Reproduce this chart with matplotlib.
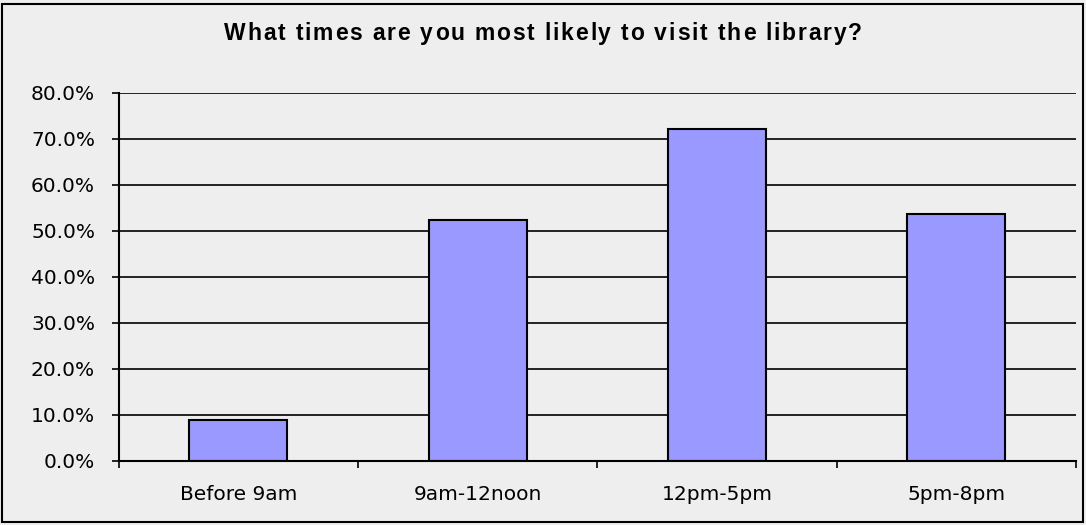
import matplotlib
matplotlib.use("Agg")
import matplotlib.pyplot as plt
from matplotlib.patches import Rectangle
from matplotlib.ticker import FuncFormatter, MultipleLocator
from matplotlib.font_manager import FontProperties

categories = ["Before 9am", "9am-12noon", "12pm-5pm", "5pm-8pm"]
values = [8.9, 52.4, 72.2, 53.7]
title = "What times are you most likely to visit the library?"

plt.rcParams['font.family'] = ['DejaVu Sans']

W, H = 1086, 525
fig = plt.figure(figsize=(W/100, H/100), dpi=100, facecolor="#EEEEEE")
ax = fig.add_axes([118.7/W, 1-461/H, (1076-118.7)/W, (461-93)/H])
ax.set_facecolor("#EEEEEE")

x = list(range(len(categories)))
ax.bar(x, values, width=0.41, color="#9999FF", edgecolor="black", linewidth=1.5, zorder=3)

ax.set_xlim(-0.5, len(categories) - 0.5)
ax.set_ylim(0, 80)
ax.yaxis.set_major_locator(MultipleLocator(10))
ax.yaxis.set_major_formatter(FuncFormatter(lambda v, p: f"{v:.1f}%"))
ax.grid(axis="y", color="black", linewidth=1.2, zorder=1)
ax.set_axisbelow(True)

ax.set_xticks(x)
ax.set_xticklabels(categories)
ax.set_xticks([i - 0.5 for i in range(len(categories) + 1)], minor=True)
ax.tick_params(axis="x", which="major", length=0, pad=17, labelsize=14.5)
ax.tick_params(axis="x", which="minor", length=5, width=1.2, direction="out")
ax.tick_params(axis="y", length=5, width=1.2, direction="out", pad=12, labelsize=14.5)

for s in ["top", "right"]:
    ax.spines[s].set_visible(False)
for s in ["left", "bottom"]:
    ax.spines[s].set_linewidth(1.5)
    ax.spines[s].set_zorder(4)

# Letter-spaced bold title (as in the reference)
fp = FontProperties(family="Liberation Sans", weight="bold", size=16.5)
renderer = fig.canvas.get_renderer()

def text_w(s):
    t = fig.text(0, 0, s + "|", fontproperties=fp)
    w = t.get_window_extent(renderer).width
    t.remove()
    t2 = fig.text(0, 0, "|", fontproperties=fp)
    w2 = t2.get_window_extent(renderer).width
    t2.remove()
    return w - w2

natural = text_w(title)
target_w = 638.0
spacing = (target_w - natural) / (len(title) - 1)
x0 = 543 - target_w / 2
for i, c in enumerate(title):
    if c == " ":
        continue
    xp = x0 + (text_w(title[:i]) if i else 0) + i * spacing
    fig.text(xp / W, 1 - 40 / H, c, ha="left", va="baseline", fontproperties=fp)

fig.patches.append(Rectangle((2/W, 3/H), 1081/W, 518/H, transform=fig.transFigure,
                             fill=False, edgecolor="black", linewidth=1.5))

fig.savefig("out.png", dpi=100, facecolor=fig.get_facecolor())
